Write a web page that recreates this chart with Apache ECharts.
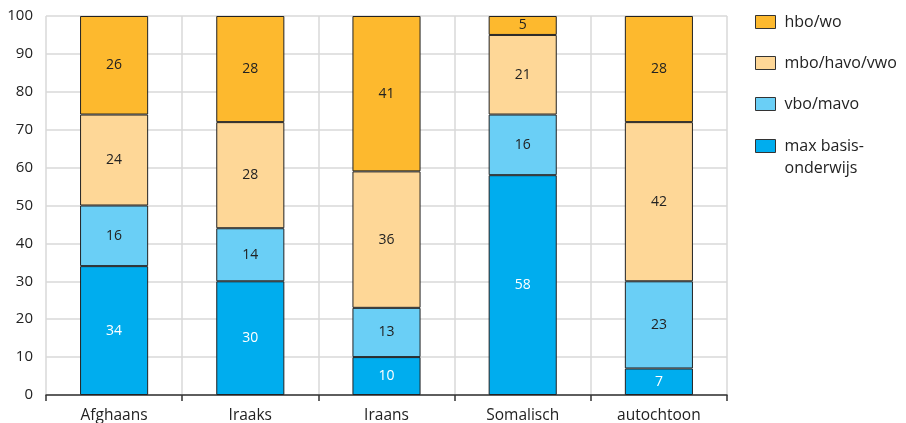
<!DOCTYPE html>
<html>
<head>
<meta charset="utf-8">
<script src="https://cdn.jsdelivr.net/npm/echarts@6/dist/echarts.min.js"></script>
<style>
  html, body { margin: 0; padding: 0; background: #fff; }
  #chart { width: 906px; height: 423px; }
</style>
</head>
<body>
<div id="chart"></div>
<script>
// opleidingsniveau per herkomstgroep (%)
var categories = ['Afghaans', 'Iraaks', 'Iraans', 'Somalisch', 'autochtoon'];
var maxBasis = [34, 30, 10, 58, 7];
var vboMavo = [16, 14, 13, 16, 23];
var mboHavoVwo = [24, 28, 36, 21, 42];
var hboWo = [26, 28, 41, 5, 28];
var yTicks = [0, 10, 20, 30, 40, 50, 60, 70, 80, 90, 100];

var fontFamily = '"Open Sans", "Noto Sans", sans-serif';

var makeSeries = function (name, data, color, labelColor) {
  return {
    name: name,
    type: 'bar',
    stack: 'total',
    barWidth: '50%',
    data: data,
    itemStyle: { color: color, borderColor: '#222', borderWidth: 1 },
    label: {
      show: true,
      position: 'inside',
      color: labelColor,
      fontSize: 14,
      fontFamily: fontFamily
    },
    emphasis: { disabled: true }
  };
};

var legendBase = {
  orient: 'vertical',
  left: 750,
  itemWidth: 20,
  itemHeight: 13,
  icon: 'rect',
  itemStyle: { borderColor: '#333', borderWidth: 1 },
  selectedMode: false
};

var chart = echarts.init(document.getElementById('chart'));
chart.setOption({
  animation: false,
  grid: { left: 46, right: 179, top: 16, bottom: 28, containLabel: false, outerBoundsMode: 'none' },
  legend: [
    Object.assign({}, legendBase, {
      top: 8,
      itemGap: 23,
      data: ['hbo/wo', 'mbo/havo/vwo', 'vbo/mavo'],
      textStyle: { fontSize: 16, color: '#222', fontFamily: fontFamily, lineHeight: 18, padding: [0, 0, 0, 4] }
    }),
    Object.assign({}, legendBase, {
      top: 111,
      data: ['max basis-\nonderwijs'],
      // lege eerste regel zodat het blokje bij de eerste tekstregel staat
      formatter: function (name) {
        var lines = name.split('\n');
        return '{e| }\n{n|' + lines[0] + '}\n{n|' + lines[1] + '}';
      },
      textStyle: {
        fontSize: 16, color: '#222', fontFamily: fontFamily, padding: [0, 0, 0, 4],
        rich: {
          e: { fontSize: 16, lineHeight: 22 },
          n: { fontSize: 16, lineHeight: 22, color: '#222', fontFamily: fontFamily }
        }
      }
    })
  ],
  xAxis: {
    type: 'category',
    data: categories,
    axisLine: { lineStyle: { color: '#333', width: 1.5 } },
    axisTick: { show: true, length: 6, lineStyle: { color: '#333', width: 1.5 } },
    axisLabel: { fontSize: 15.5, color: '#222', fontFamily: fontFamily, margin: 13 },
    splitLine: { show: true, lineStyle: { color: '#d9d9d9', width: 1.5 } }
  },
  yAxis: {
    type: 'value',
    min: yTicks[0],
    max: yTicks[yTicks.length - 1],
    interval: 10,
    axisLine: { show: false },
    axisTick: { show: false },
    axisLabel: { fontSize: 15, color: '#222', fontFamily: fontFamily, margin: 13 },
    splitLine: { lineStyle: { color: '#d9d9d9', width: 1.5 } }
  },
  series: [
    makeSeries('max basis-\nonderwijs', maxBasis, '#00adee', '#ffffff'),
    makeSeries('vbo/mavo', vboMavo, '#6acff6', '#222'),
    makeSeries('mbo/havo/vwo', mboHavoVwo, '#fed797', '#222'),
    makeSeries('hbo/wo', hboWo, '#fdb92e', '#222')
  ]
});
</script>
</body>
</html>
